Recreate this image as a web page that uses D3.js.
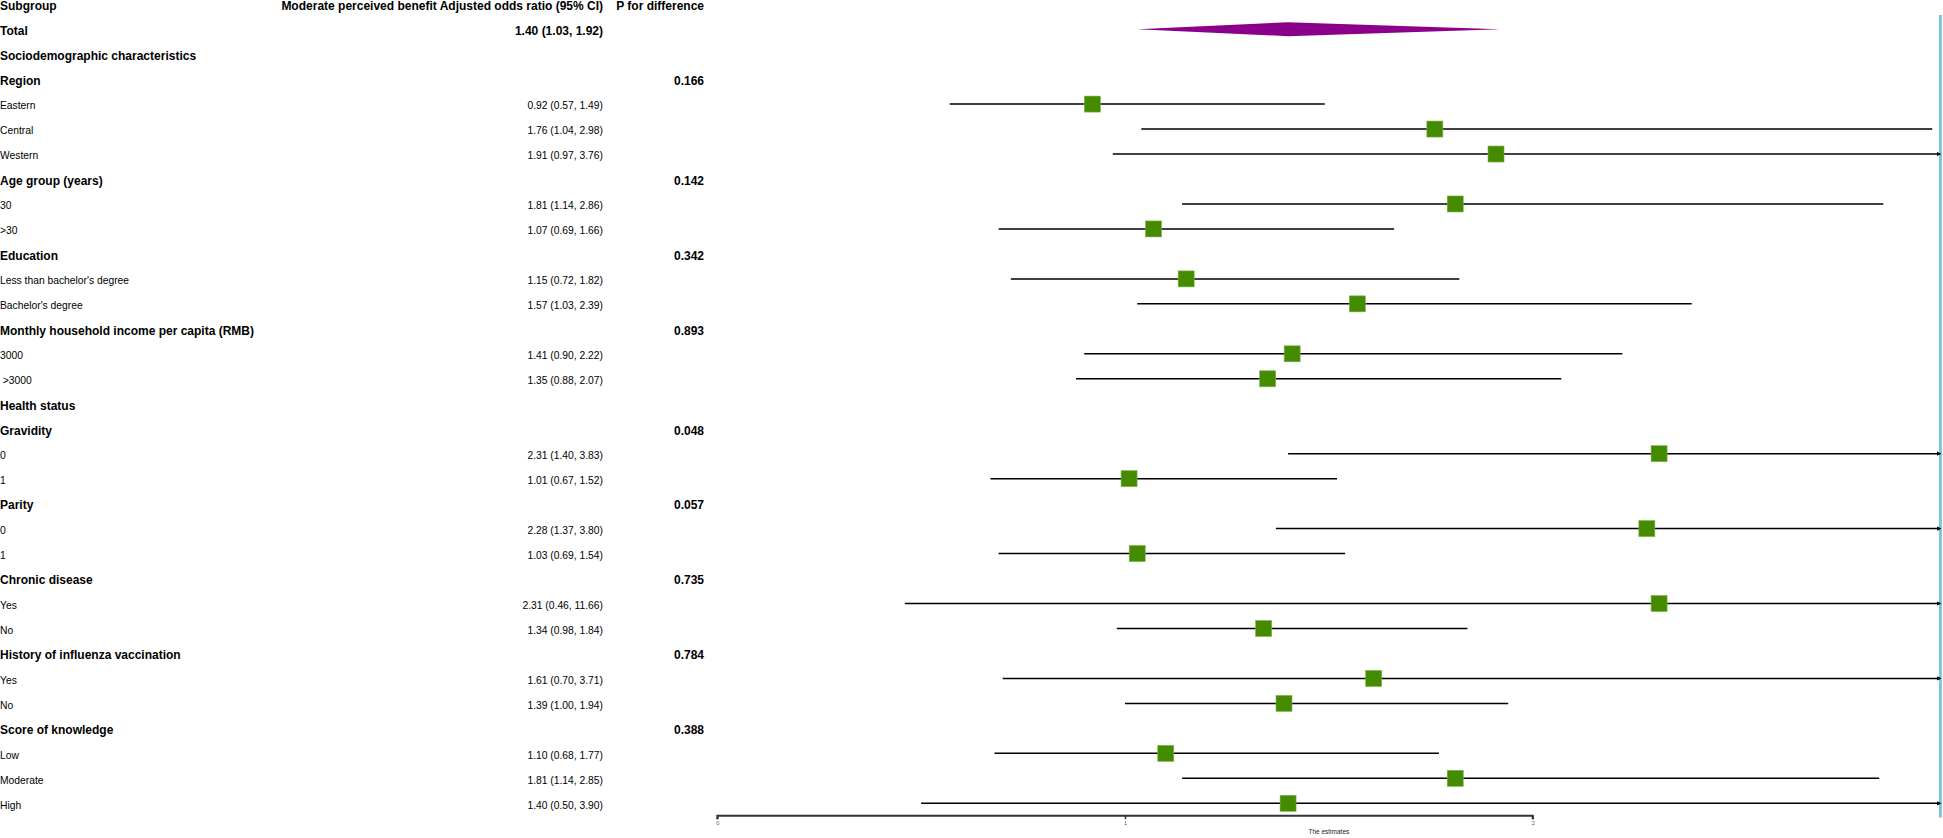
<!DOCTYPE html>
<html>
<head>
<meta charset="utf-8">
<script src="https://cdn.jsdelivr.net/npm/d3@7"></script>
<style>
  html, body { margin: 0; padding: 0; background: #fff; }
  svg { display: block; }
  text { font-family: "Liberation Sans", Arial, sans-serif; }
</style>
</head>
<body>
<svg id="chart" width="1943" height="838"></svg>
<script>
// ---- data ----
const headers = ["Subgroup", "Moderate perceived benefit Adjusted odds ratio (95% CI)", "P for difference"];

const labels = [
  "Total",
  "Sociodemographic characteristics",
  "Region", "Eastern", "Central", "Western",
  "Age group (years)", "30", ">30",
  "Education", "Less than bachelor's degree", "Bachelor's degree",
  "Monthly household income per capita (RMB)", "3000", " >3000",
  "Health status",
  "Gravidity", "0", "1",
  "Parity", "0", "1",
  "Chronic disease", "Yes", "No",
  "History of influenza vaccination", "Yes", "No",
  "Score of knowledge", "Low", "Moderate", "High"
];

// 1 = bold group/heading row, 0 = subgroup row
const isHeading = [
  1,
  1,
  1, 0, 0, 0,
  1, 0, 0,
  1, 0, 0,
  1, 0, 0,
  1,
  1, 0, 0,
  1, 0, 0,
  1, 0, 0,
  1, 0, 0,
  1, 0, 0, 0
];

const estimates = [
  1.40,
  null,
  null, 0.92, 1.76, 1.91,
  null, 1.81, 1.07,
  null, 1.15, 1.57,
  null, 1.41, 1.35,
  null,
  null, 2.31, 1.01,
  null, 2.28, 1.03,
  null, 2.31, 1.34,
  null, 1.61, 1.39,
  null, 1.10, 1.81, 1.40
];

const lowers = [
  1.03,
  null,
  null, 0.57, 1.04, 0.97,
  null, 1.14, 0.69,
  null, 0.72, 1.03,
  null, 0.90, 0.88,
  null,
  null, 1.40, 0.67,
  null, 1.37, 0.69,
  null, 0.46, 0.98,
  null, 0.70, 1.00,
  null, 0.68, 1.14, 0.50
];

const uppers = [
  1.92,
  null,
  null, 1.49, 2.98, 3.76,
  null, 2.86, 1.66,
  null, 1.82, 2.39,
  null, 2.22, 2.07,
  null,
  null, 3.83, 1.52,
  null, 3.80, 1.54,
  null, 11.66, 1.84,
  null, 3.71, 1.94,
  null, 1.77, 2.85, 3.90
];

const pValues = [
  "", "",
  "0.166", "", "", "",
  "0.142", "", "",
  "0.342", "", "",
  "0.893", "", "",
  "",
  "0.048", "", "",
  "0.057", "", "",
  "0.735", "", "",
  "0.784", "", "",
  "0.388", "", "", ""
];

const xTicks = [0, 1, 2];
const xDomain = [0, 3];
const xTitle = "The estimates";

// ---- drawing ----
const svg = d3.select("#chart");
const fmt = d3.format(".2f");
const ciText = (i) => estimates[i] == null ? "" :
  `${fmt(estimates[i])} (${fmt(lowers[i])}, ${fmt(uppers[i])})`;

const x = d3.scaleLinear().domain(xDomain).range([717.3, 1940.4]);
// row 0 = header, rows 1.. = data
const y = d3.scaleLinear().domain([0, labels.length]).range([4.2, 803.3]);

const colSub = 0;
const colCI = 603;
const colP = 704;

// baseline offsets (text centre = line y + 1.5)
const bBold = 1.5 + 4.3;
const bReg = 1.5 + 3.7;

// reference line (cyan)
svg.append("line")
  .attr("x1", x(3)).attr("x2", x(3))
  .attr("y1", 15).attr("y2", 817.5)
  .attr("stroke", "#7dc6d2").attr("stroke-width", 3);

// header
const hdr = svg.append("g").attr("font-weight", "bold").attr("font-size", 12).attr("fill", "#000");
hdr.append("text").attr("x", colSub).attr("y", y(0) + bBold).text(headers[0]);
hdr.append("text").attr("x", colCI).attr("y", y(0) + bBold).attr("text-anchor", "end").text(headers[1]);
hdr.append("text").attr("x", colP).attr("y", y(0) + bBold).attr("text-anchor", "end").text(headers[2]);

// rows
const rows = svg.append("g").selectAll("g.row")
  .data(labels.map((l, i) => i))
  .join("g").attr("class", "row");

rows.append("text")
  .attr("x", colSub)
  .attr("y", i => y(i + 1) + (isHeading[i] ? bBold : bReg))
  .attr("font-size", i => isHeading[i] ? 12 : 10.3)
  .attr("font-weight", i => isHeading[i] ? "bold" : "normal")
  .attr("xml:space", "preserve")
  .style("white-space", "pre")
  .text(i => labels[i]);

rows.append("text")
  .attr("x", colCI)
  .attr("y", i => y(i + 1) + (i === 0 ? bBold : bReg))
  .attr("text-anchor", "end")
  .attr("font-size", i => i === 0 ? 12 : 10.3)
  .attr("font-weight", i => i === 0 ? "bold" : "normal")
  .text(i => ciText(i));

rows.append("text")
  .attr("x", colP)
  .attr("y", i => y(i + 1) + bBold)
  .attr("text-anchor", "end")
  .attr("font-size", 12)
  .attr("font-weight", "bold")
  .text(i => pValues[i]);

// arrow marker for clipped CIs
svg.append("defs").append("marker")
  .attr("id", "arr").attr("viewBox", "0 0 6 6")
  .attr("refX", 5).attr("refY", 3)
  .attr("markerWidth", 3).attr("markerHeight", 3)
  .attr("orient", "auto")
  .append("path").attr("d", "M0,0L6,3L0,6Z").attr("fill", "#000");

const maxV = xDomain[1];
const ciIdx = d3.range(1, labels.length).filter(i => estimates[i] != null);

// CI lines
svg.append("g").selectAll("line")
  .data(ciIdx).join("line")
  .attr("x1", i => x(Math.max(lowers[i], xDomain[0])))
  .attr("x2", i => x(Math.min(uppers[i], maxV)))
  .attr("y1", i => y(i + 1)).attr("y2", i => y(i + 1))
  .attr("stroke", "#000").attr("stroke-width", 1.5)
  .attr("marker-end", i => uppers[i] > maxV ? "url(#arr)" : null);

// squares
const sq = 16;
svg.append("g").selectAll("rect")
  .data(ciIdx).join("rect")
  .attr("x", i => x(estimates[i]) - sq / 2)
  .attr("y", i => y(i + 1) - sq / 2)
  .attr("width", sq).attr("height", sq)
  .attr("fill", "#458B00")
  .attr("stroke", "#7db24a").attr("stroke-width", 0.6);

// total diamond
const dy = y(1), dh = 7;
svg.append("path")
  .attr("d", `M${x(lowers[0])},${dy}L${x(estimates[0])},${dy - dh}L${x(uppers[0])},${dy}L${x(estimates[0])},${dy + dh}Z`)
  .attr("fill", "#8B008B");

// x axis
const axisY = 815.7;
const axis = d3.axisBottom(x).tickValues(xTicks).tickSize(3.5).tickPadding(2).tickFormat(d3.format("d"));
const ax = svg.append("g").attr("transform", `translate(0,${axisY})`).call(axis);
ax.select(".domain")
  .attr("d", `M${x(xTicks[0])},3.5V0H${x(xTicks[xTicks.length - 1])}V3.5`)
  .attr("stroke", "#333").attr("stroke-width", 2);
ax.selectAll(".tick line").attr("stroke", "#333").attr("stroke-width", 1.5);
ax.selectAll(".tick text").attr("font-size", 5.5).attr("fill", "#4a5870")
  .attr("font-family", "Liberation Sans, Arial, sans-serif");

svg.append("text")
  .attr("x", (x(xDomain[0]) + x(xDomain[1])) / 2)
  .attr("y", 834)
  .attr("text-anchor", "middle")
  .attr("font-size", 6.5)
  .attr("fill", "#222")
  .text(xTitle);
</script>
</body>
</html>
